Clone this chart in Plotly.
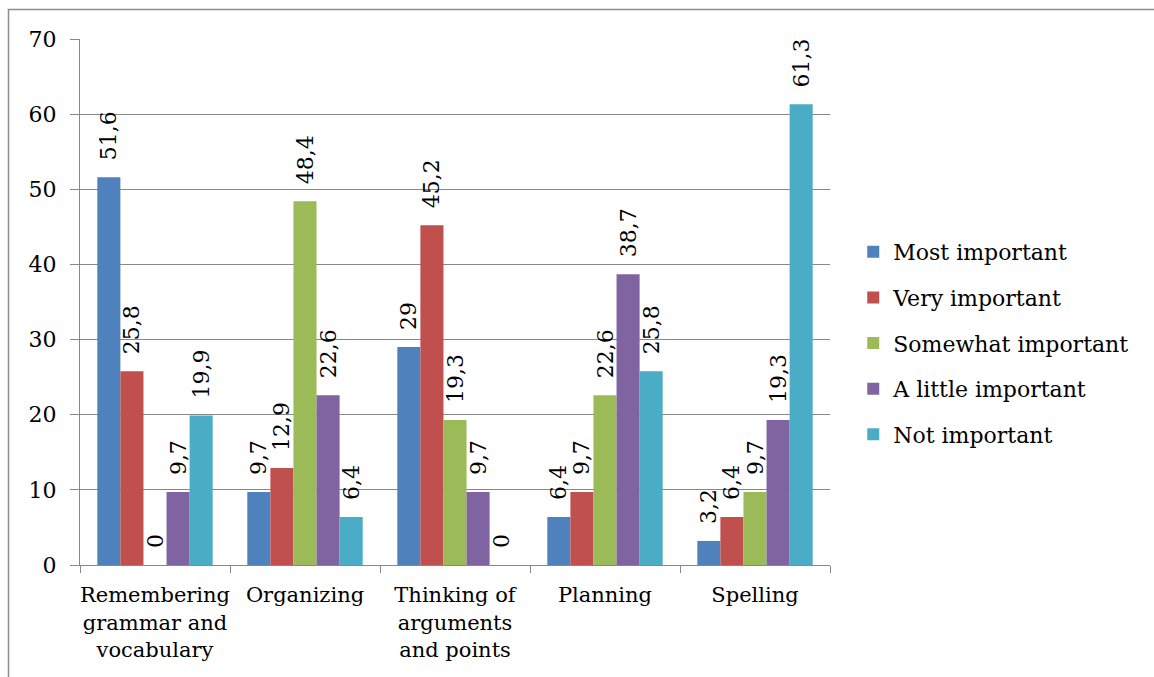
import plotly.graph_objects as go

categories = [
    "Remembering<br>grammar and<br>vocabulary",
    "Organizing",
    "Thinking of<br>arguments<br>and points",
    "Planning",
    "Spelling",
]
series_names = [
    "Most important",
    "Very important",
    "Somewhat important",
    "A little important",
    "Not important",
]
most_important = [51.6, 9.7, 29, 6.4, 3.2]
very_important = [25.8, 12.9, 45.2, 9.7, 6.4]
somewhat_important = [0, 48.4, 19.3, 22.6, 9.7]
a_little_important = [9.7, 22.6, 9.7, 38.7, 19.3]
not_important = [19.9, 6.4, 0, 25.8, 61.3]
y_ticks = [0, 10, 20, 30, 40, 50, 60, 70]

series_values = [most_important, very_important, somewhat_important,
                 a_little_important, not_important]
colors = ["#4F81BD", "#C0504D", "#9BBB59", "#8064A2", "#4BACC6"]

FONT = "DejaVu Serif"
GRID = "#888888"


def fmt(v):
    s = f"{v:g}".replace(".", ",")
    # pad the start so the rotated label sits clear of the bar top
    return "\u00a0\u00a0" + s


fig = go.Figure()
for name, vals, col in zip(series_names, series_values, colors):
    fig.add_trace(go.Bar(
        name=name,
        x=categories,
        y=vals,
        marker=dict(color=col, line=dict(width=0)),
        text=[fmt(v) for v in vals],
        textposition="outside",
        textangle=-90,
        constraintext="none",
        cliponaxis=False,
        textfont=dict(family=FONT, size=22, color="#000000"),
        legendgroup=name,
    ))

fig.update_layout(
    width=1154,
    height=677,
    margin=dict(l=80, r=324, t=39, b=112, pad=0),
    paper_bgcolor="white",
    plot_bgcolor="white",
    barmode="group",
    bargap=0.2308,
    bargroupgap=0,
    font=dict(family=FONT, size=22, color="#000000"),
    showlegend=True,
    legend=dict(
        x=1.031, xanchor="left",
        y=0.422, yanchor="middle",
        font=dict(family=FONT, size=22, color="#000000"),
        tracegroupgap=14,
        bgcolor="rgba(0,0,0,0)",
    ),
    xaxis=dict(
        showline=True, linecolor=GRID, linewidth=1,
        ticks="outside", tickson="boundaries", ticklen=7, tickcolor=GRID,
        showgrid=False,
        tickangle=0,
        automargin=False,
        tickfont=dict(family=FONT, size=21),
        ticklabelstandoff=11,
    ),
    yaxis=dict(
        range=[0, 70],
        tickvals=y_ticks,
        showline=True, linecolor=GRID, linewidth=1,
        ticks="outside", ticklen=9, tickcolor=GRID,
        showgrid=True, gridcolor=GRID, gridwidth=1,
        zeroline=False,
        automargin=False,
        tickfont=dict(family=FONT, size=22),
        ticklabelstandoff=9,
    ),
    shapes=[dict(
        type="rect", xref="paper", yref="paper",
        x0=(8.5 - 80) / 750, x1=(1160 - 80) / 750,
        y0=(565 - 690) / 526, y1=(565 - 9.5) / 526,
        line=dict(color="#8c8c8c", width=1.5),
        fillcolor="rgba(0,0,0,0)",
        layer="below",
    )],
)

fig.write_html("out.html")
